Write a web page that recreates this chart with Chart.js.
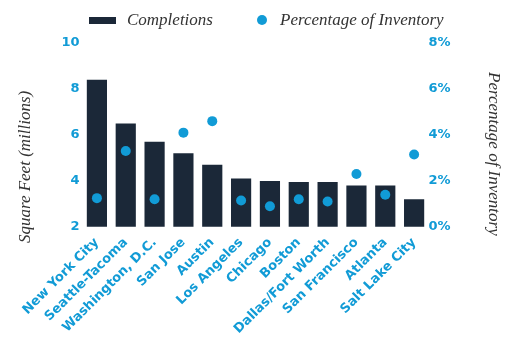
<!DOCTYPE html>
<html>
<head>
<meta charset="utf-8">
<script src="https://cdn.jsdelivr.net/npm/chart.js@4.4.1/dist/chart.umd.min.js"></script>
<style>
    html, body { margin: 0; padding: 0; background: #ffffff; }
    #wrap { position: relative; width: 513px; height: 337px; }
    #legend {
        position: absolute; top: 8px; left: 0; width: 513px; height: 24px;
        font-family: "Liberation Serif", "DejaVu Serif", serif;
        font-style: italic; font-size: 17px; color: #333333;
    }
    .item { position: absolute; top: 0; line-height: 24px; white-space: nowrap; }
    .swatch-bar { position: absolute; width: 27px; height: 7px; background: #1b2838; top: 9px; }
    .swatch-dot { position: absolute; width: 10px; height: 10px; border-radius: 50%; background: #119bd6; top: 7px; }
</style>
</head>
<body>
<div id="wrap">
    <canvas id="chart" width="513" height="337"></canvas>
    <div id="legend"></div>
</div>
<script>
const categories = [
    "New York City", "Seattle-Tacoma", "Washington, D.C.", "San Jose", "Austin",
    "Los Angeles", "Chicago", "Boston", "Dallas/Fort Worth", "San Francisco",
    "Atlanta", "Salt Lake City"
];
// square feet, millions
const completions = [8.4, 6.5, 5.7, 5.2, 4.7, 4.1, 4.0, 3.95, 3.95, 3.8, 3.8, 3.2];
// percent of inventory
const pctInventory = [1.25, 3.3, 1.2, 4.1, 4.6, 1.15, 0.9, 1.2, 1.1, 2.3, 1.4, 3.15];
const leftTicks = [2, 4, 6, 8, 10];
const rightTicks = [0, 2, 4, 6, 8];

const BLUE = "#119bd6";
const NAVY = "#1b2838";
const tickFont = { family: "'DejaVu Sans', sans-serif", weight: "bold", size: 13 };
const titleFont = { family: "'Liberation Serif', 'DejaVu Serif', serif", style: "italic", size: 17 };

// html legend
const legendEl = document.getElementById("legend");
legendEl.innerHTML =
    '<span class="swatch-bar" style="left:89px"></span>' +
    '<span class="item" style="left:127px">Completions</span>' +
    '<span class="swatch-dot" style="left:257px"></span>' +
    '<span class="item" style="left:280px">Percentage of Inventory</span>';

// the axis titles in the original sit a bit below the middle of the plot
const titleShift = { yLeft: 32, yRight: 19 };
const shiftTitles = {
    id: "shiftTitles",
    afterLayout(chart) {
        Object.keys(titleShift).forEach((id) => {
            const scale = chart.scales[id];
            if (!scale || scale._titleShifted) {
                return;
            }
            const drawTitle = scale.drawTitle.bind(scale);
            scale.drawTitle = function () {
                this.ctx.save();
                this.ctx.translate(0, titleShift[id]);
                drawTitle();
                this.ctx.restore();
            };
            scale._titleShifted = true;
        });
    },
};

new Chart(document.getElementById("chart"), {
    data: {
        labels: categories,
        datasets: [
            {
                type: "line",
                label: "Percentage of Inventory",
                data: pctInventory,
                yAxisID: "yRight",
                showLine: false,
                pointRadius: 5,
                pointBackgroundColor: BLUE,
                pointBorderWidth: 0,
                order: 0,
            },
            {
                type: "bar",
                label: "Completions",
                data: completions,
                yAxisID: "yLeft",
                backgroundColor: NAVY,
                barPercentage: 0.7,
                categoryPercentage: 1,
                order: 1,
            },
        ],
    },
    plugins: [shiftTitles],
    options: {
        responsive: false,
        animation: false,
        layout: { padding: { top: 43, left: 6, right: 4, bottom: 0 } },
        plugins: {
            legend: { display: false },
            tooltip: { enabled: false },
        },
        scales: {
            x: {
                grid: { display: false },
                border: { display: false },
                ticks: {
                    color: BLUE,
                    font: tickFont,
                    minRotation: 45,
                    maxRotation: 45,
                    autoSkip: false,
                    padding: 0,
                },
            },
            yLeft: {
                position: "left",
                min: 2,
                max: 10,
                grid: { display: false, drawTicks: false },
                border: { display: false },
                afterBuildTicks: (axis) => {
                    axis.ticks = leftTicks.map((v) => ({ value: v }));
                },
                ticks: { color: BLUE, font: tickFont, padding: 3 },
                title: {
                    display: true,
                    text: "Square Feet (millions)",
                    color: "#333333",
                    font: titleFont,
                    padding: { top: 9, bottom: 23 },
                },
            },
            yRight: {
                position: "right",
                min: 0,
                max: 8,
                grid: { display: false, drawTicks: false },
                border: { display: false },
                afterBuildTicks: (axis) => {
                    axis.ticks = rightTicks.map((v) => ({ value: v }));
                },
                ticks: {
                    color: BLUE,
                    font: tickFont,
                    padding: 0,
                    callback: (v) => v + "%",
                },
                title: {
                    display: true,
                    text: "Percentage of Inventory",
                    color: "#333333",
                    font: titleFont,
                    padding: { top: 5, bottom: 33 },
                },
            },
        },
    },
});
</script>
</body>
</html>
